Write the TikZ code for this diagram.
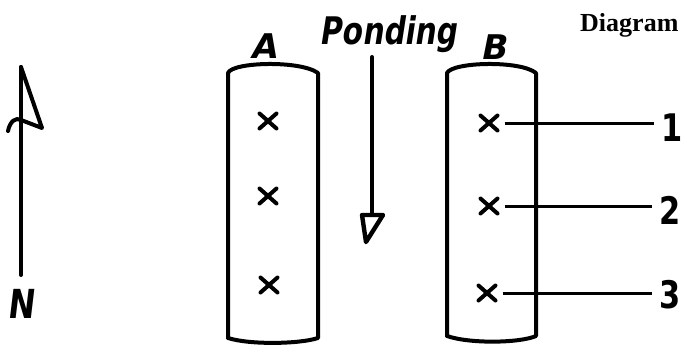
\documentclass[tikz,border=0pt]{standalone}
\usepackage{fontspec}
\newfontfamily\hand{DejaVu Sans}
\newfontfamily\capfont{Liberation Serif}
\usetikzlibrary{shapes.misc}
\begin{document}
\begin{tikzpicture}[x=1pt,y=-1pt,
  ink/.style={line width=4pt, line cap=round, line join=round},
  cross/.style={cross out, draw, line width=4pt, line cap=round, minimum width=13pt, minimum height=11pt, inner sep=0pt},
  handlbl/.style={font=\hand\bfseries\fontsize{34}{34}\selectfont, inner sep=0pt},
  numlbl/.style={font=\hand\bfseries\fontsize{38}{38}\selectfont, inner sep=0pt, xscale=0.8},
  leader/.style={line width=3pt}]
\useasboundingbox (0,0) rectangle (683,351);
% North arrow
\coordinate (ntop) at (21,67);
\coordinate (nbot) at (21,275);
\coordinate (nr) at (42,128);
\coordinate (nm) at (21,120);
\coordinate (nl) at (8,131);
\draw[ink] (ntop) -- (nbot);
\draw[ink] (ntop) -- (nr) -- (nm);
\draw[ink] (nl) .. controls (10,121) and (16,117) .. (nm);
\node[handlbl, font=\hand\bfseries\fontsize{40}{40}\selectfont, xscale=0.8, xslant=0.15] (N) at (23,304) {N};
% Box A
\coordinate (a1) at (228,338);
\coordinate (a2) at (228,73);
\coordinate (a3) at (318,73);
\coordinate (a4) at (318,338);
\draw[ink] (a1) -- (a2) .. controls (232,62) and (300,60) .. (a3) -- (a4) .. controls (300,344) and (250,345) .. (a1);
\node[handlbl, xslant=0.2] (lA) at (266,46) {A};
\node[cross] (xa1) at (268,121) {};
\node[cross] (xa2) at (268,196) {};
\node[cross] (xa3) at (269,285) {};
% Box B
\coordinate (b1) at (447,336);
\coordinate (b2) at (447,73);
\coordinate (b3) at (536,73);
\coordinate (b4) at (536,336);
\draw[ink] (b1) -- (b2) .. controls (452,62) and (520,60) .. (b3) -- (b4) .. controls (520,343) and (470,344) .. (b1);
\node[handlbl, xslant=0.2] (lB) at (496,47) {B};
\node[cross] (xb1) at (489,123) {};
\node[cross] (xb2) at (489,206) {};
\node[cross] (xb3) at (487,293) {};
% labels 1 2 3
\node[numlbl] (n1) at (672,128) {1};
\node[numlbl] (n2) at (670,210) {2};
\node[numlbl] (n3) at (670,295) {3};
\draw[leader] ([xshift=7pt]xb1.east) -- ([xshift=-7pt]n1.west |- xb1.east);
\draw[leader] ([xshift=7pt]xb2.east) -- ([xshift=-7pt]n2.west |- xb2.east);
\draw[leader] ([xshift=7pt]xb3.east) -- ([xshift=-7pt]n3.west |- xb3.east);
% Ponding
\node[inner sep=0pt, font=\hand\bfseries\fontsize{38}{38}\selectfont, xscale=0.78, xslant=0.2] (pond) at (390,34) {Ponding};
\coordinate (ptop) at (372,57);
\coordinate (pmid) at (372,215);
\draw[ink] (ptop) -- (pmid);
\draw[ink, line width=4.4pt] (362,215) -- (383,215) -- (366,242) -- cycle;
% Diagram title
\node[inner sep=0pt, anchor=base west, font=\capfont\bfseries\fontsize{26}{26}\selectfont] (title) at (580,31) {Diagram};
\end{tikzpicture}
\end{document}
